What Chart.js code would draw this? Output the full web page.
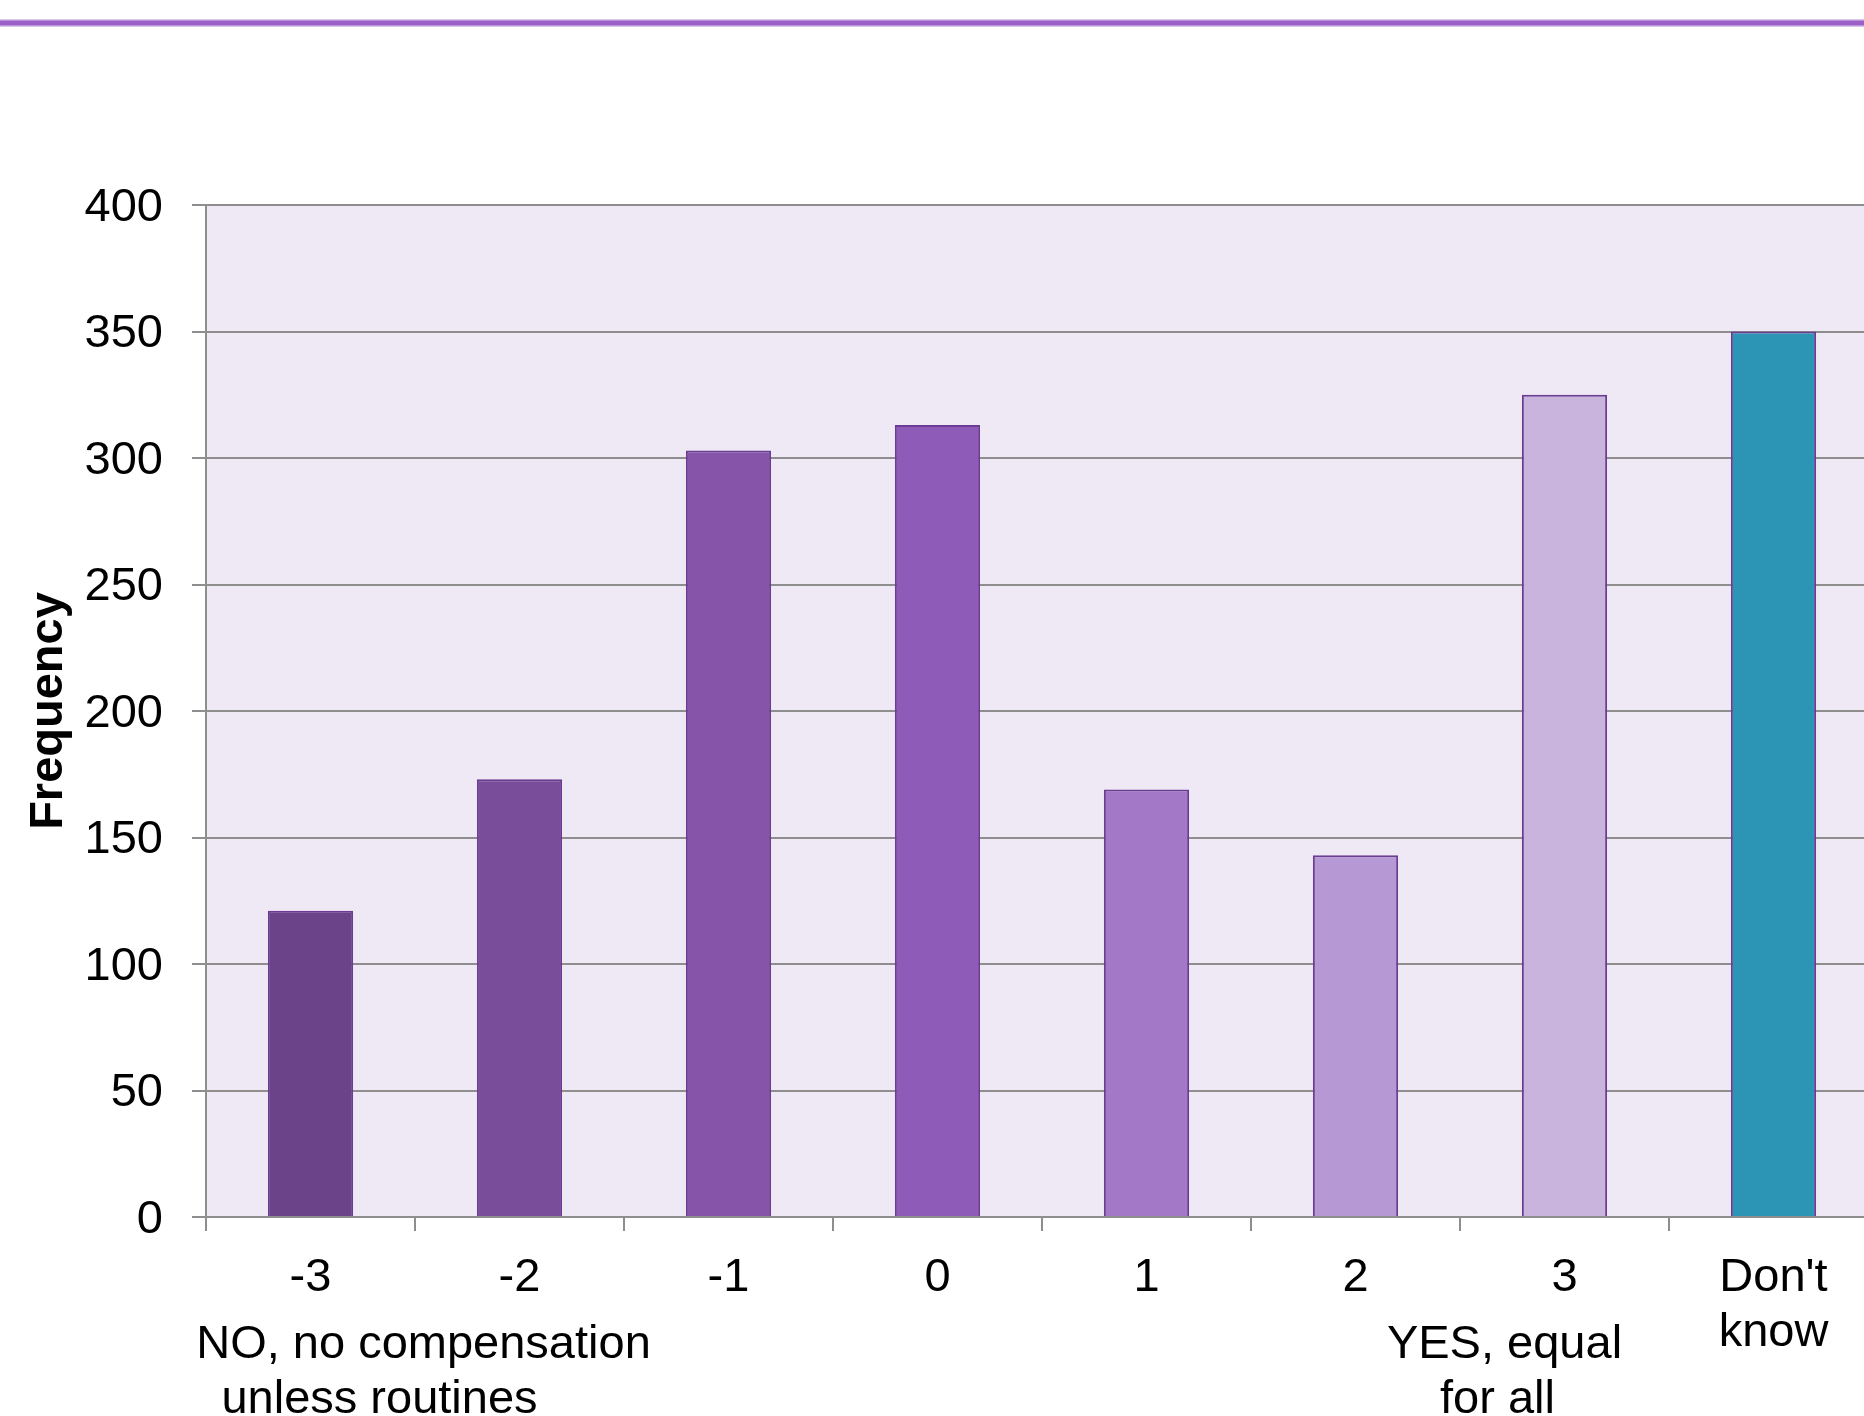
<!DOCTYPE html>
<html>
<head>
<meta charset="utf-8">
<script src="https://cdn.jsdelivr.net/npm/chart.js@4.4.1/dist/chart.umd.min.js"></script>
<style>
  html, body { margin: 0; padding: 0; background: #fff; overflow: hidden; }
  #wrap { width: 1900px; height: 1416px; }
</style>
</head>
<body>
<div id="wrap"><canvas id="freqChart" width="1900" height="1416"></canvas></div>
<script>
// categories and counts
const categories = ['-3', '-2', '-1', '0', '1', '2', '3', ["Don't", 'know']];
const frequencies = [121, 173, 303, 313, 169, 143, 325, 350];
const barColors = ['#6B4388', '#7A4D9A', '#8654A9', '#8F5BB8', '#A379C7', '#B699D4', '#C8B4DD', '#2C94B5'];
const yTicks = [0, 50, 100, 150, 200, 250, 300, 350, 400];
const noCaption = ['NO, no compensation', 'unless routines'];
const yesCaption = ['YES, equal', 'for all'];

const FONT = '"Liberation Sans", Arial, sans-serif';
const GRID = '#8E8E8E';

// fondo del área y línea superior
const backdrop = {
    id: 'backdrop',
    beforeDraw(chart) {
        const { ctx, chartArea } = chart;
        ctx.save();
        ctx.fillStyle = '#fff';
        ctx.fillRect(0, 0, chart.width, chart.height);
        ctx.fillStyle = '#EFE9F5';
        ctx.fillRect(chartArea.left, chartArea.top, chartArea.right - chartArea.left, chartArea.bottom - chartArea.top);
        ctx.fillStyle = '#D9C6EA';
        ctx.fillRect(0, 19, chart.width, 8);
        ctx.fillStyle = '#9B5FC8';
        ctx.fillRect(0, 20.5, chart.width, 5);
        ctx.restore();
    }
};

// textos bajo -3 y 3
const captions = {
    id: 'captions',
    afterDraw(chart) {
        const { ctx, chartArea } = chart;
        const x = chart.scales.x;
        const xNo = x.getPixelForValue(0);
        const xYes = x.getPixelForValue(6);
        ctx.save();
        ctx.font = '47px ' + FONT;
        ctx.fillStyle = '#000';
        ctx.textAlign = 'center';
        ctx.textBaseline = 'alphabetic';
        ctx.fillText(noCaption[0], xNo + 113, chartArea.bottom + 141);
        ctx.fillText(noCaption[1], xNo + 69, chartArea.bottom + 196);
        ctx.fillText(yesCaption[0], xYes - 60, chartArea.bottom + 141);
        ctx.fillText(yesCaption[1], xYes - 67, chartArea.bottom + 196);
        ctx.restore();
    }
};

new Chart(document.getElementById('freqChart').getContext('2d'), {
    type: 'bar',
    data: {
        labels: categories,
        datasets: [{
            label: 'Frequency',
            data: frequencies,
            backgroundColor: barColors,
            borderColor: '#6C3C93',
            borderWidth: 2,
            categoryPercentage: 1,
            barPercentage: 0.408
        }]
    },
    options: {
        responsive: false,
        animation: false,
        devicePixelRatio: 1,
        layout: { padding: { top: 205, left: 0, right: 22, bottom: 0 } },
        plugins: {
            legend: { display: false },
            tooltip: { enabled: false }
        },
        scales: {
            x: {
                afterFit(scale) { scale.height = 199; },
                border: { color: GRID, width: 2 },
                grid: {
                    offset: true,
                    drawOnChartArea: false,
                    drawTicks: true,
                    tickLength: 14,
                    color: GRID,
                    lineWidth: 2
                },
                ticks: {
                    color: '#000',
                    padding: 20,
                    maxRotation: 0,
                    autoSkip: false,
                    font: { family: FONT, size: 47, lineHeight: 1.17 }
                }
            },
            y: {
                min: 0,
                max: 400,
                afterFit(scale) { scale.width = 206; },
                afterBuildTicks(scale) { scale.ticks = yTicks.map(v => ({ value: v })); },
                border: { color: GRID, width: 2 },
                grid: {
                    color: GRID,
                    lineWidth: 2,
                    drawTicks: true,
                    tickLength: 14
                },
                ticks: {
                    color: '#000',
                    padding: 29,
                    labelOffset: 3,
                    font: { family: FONT, size: 47 }
                },
                title: {
                    display: true,
                    text: 'Frequency',
                    color: '#000',
                    padding: { top: 21 },
                    font: { family: FONT, size: 47, weight: 'bold' }
                }
            }
        }
    },
    plugins: [backdrop, captions]
});
</script>
</body>
</html>
